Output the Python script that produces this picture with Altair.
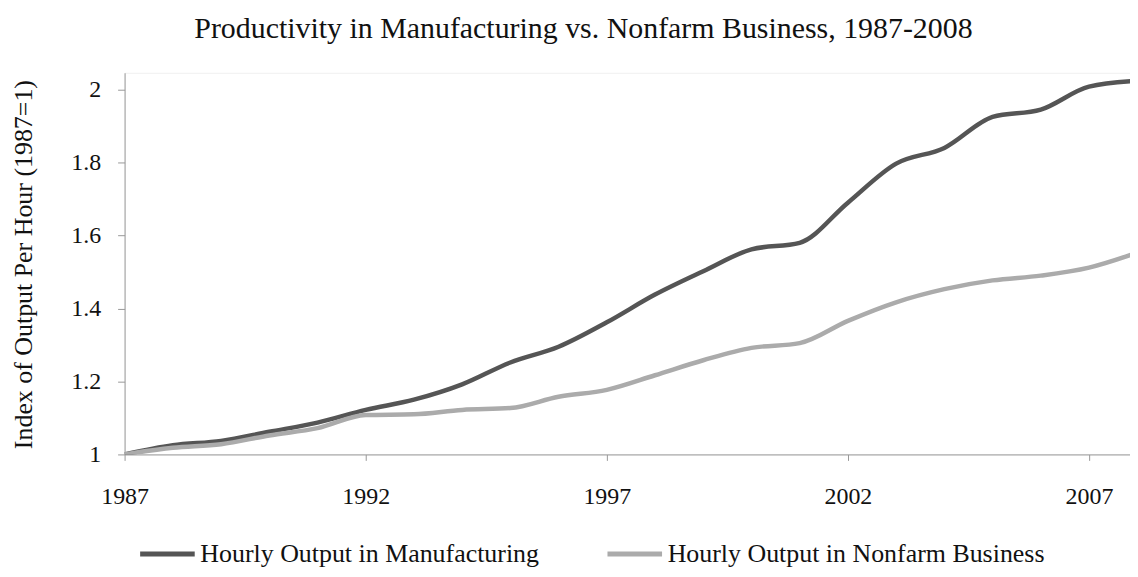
import altair as alt
import pandas as pd

years = list(range(1987, 2009))
manufacturing = [1.0, 1.025, 1.037, 1.062, 1.087, 1.122, 1.150, 1.192, 1.252, 1.295, 1.362,
                 1.438, 1.502, 1.562, 1.580, 1.690, 1.797, 1.840, 1.925, 1.945, 2.008, 2.024]
nonfarm = [1.0, 1.018, 1.028, 1.052, 1.072, 1.108, 1.110, 1.122, 1.127, 1.158, 1.177,
           1.217, 1.258, 1.292, 1.305, 1.366, 1.417, 1.453, 1.477, 1.490, 1.512, 1.553]
series_names = ["Hourly Output in Manufacturing", "Hourly Output in Nonfarm Business"]
colors = ["#555555", "#ababab"]

rows = []
for y, m, n in zip(years, manufacturing, nonfarm):
    rows.append({"year": y, "value": m, "series": series_names[0]})
    rows.append({"year": y, "value": n, "series": series_names[1]})
df = pd.DataFrame(rows)

font = "Liberation Serif"

chart = alt.Chart(df).mark_line(interpolate="monotone", strokeWidth=4.5, clip=True).encode(
    x=alt.X("year:Q",
            scale=alt.Scale(domain=[1987, 2007.85], nice=False, zero=False),
            axis=alt.Axis(values=[1987, 1992, 1997, 2002, 2007], format="d", title=None,
                          grid=False, tickSize=6, labelPadding=24, labelFontSize=24,
                          labelFont=font, labelColor="#111111", domainColor="#999999",
                          tickColor="#999999", labelFlush=False)),
    y=alt.Y("value:Q",
            scale=alt.Scale(domain=[1, 2.046], nice=False, zero=False),
            axis=alt.Axis(values=[1, 1.2, 1.4, 1.6, 1.8, 2.0], format="~g",
                          title="Index of Output Per Hour (1987=1)",
                          titleFont=font, titleFontSize=26, titleFontWeight="normal",
                          titleColor="#111111", titleAngle=-90, titleX=-101, titleY=192,
                          titleAlign="center", titleBaseline="middle",
                          grid=False, tickSize=7, labelPadding=17, labelFontSize=24,
                          labelFont=font, labelColor="#111111", domainColor="#999999",
                          tickColor="#999999")),
    color=alt.Color("series:N",
                    scale=alt.Scale(domain=series_names, range=colors),
                    legend=alt.Legend(title=None, orient="none", legendX=13, legendY=453,
                                      direction="horizontal", columns=2, columnPadding=57,
                                      symbolType="stroke", symbolSize=3000,
                                      symbolStrokeWidth=5, labelFont=font,
                                      labelFontSize=26, labelColor="#111111",
                                      labelLimit=600, labelOffset=3)),
).properties(
    width=1009,
    height=383,
    padding={"left": 117, "top": 64, "right": 0, "bottom": 114},
    autosize=alt.AutoSizeParams(type="none"),
    title=alt.TitleParams("Productivity in Manufacturing vs. Nonfarm Business, 1987-2008",
                          font=font, fontSize=30, fontWeight="normal", color="#111111",
                          offset=29, anchor="middle", dx=-44),
).configure_view(stroke="#f0f0f0")

chart.save("out.html", embed_options={"renderer": "svg", "actions": False})
